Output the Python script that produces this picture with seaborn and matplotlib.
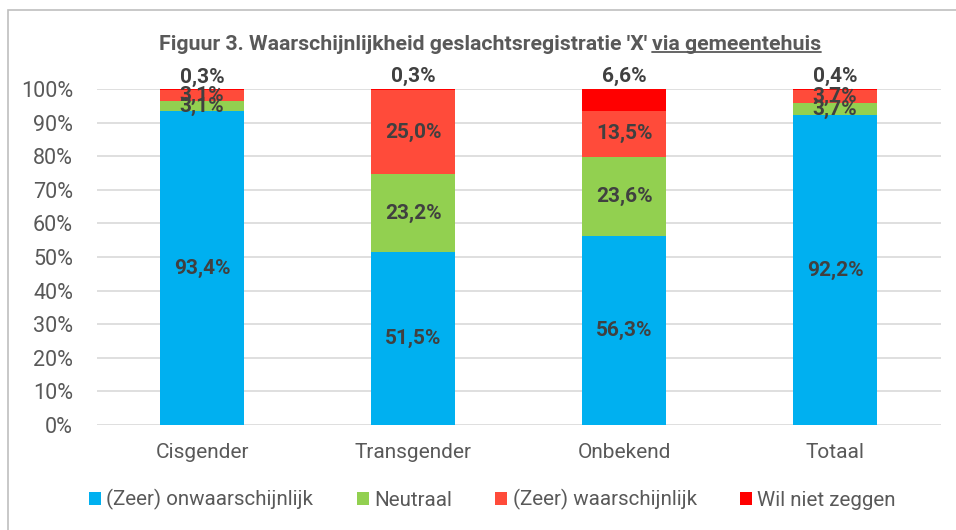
import numpy as np
import pandas as pd
import matplotlib.pyplot as plt
import seaborn as sns
from matplotlib.lines import Line2D
from matplotlib.patches import Rectangle, Patch

# data
categories = ['Cisgender', 'Transgender', 'Onbekend', 'Totaal']
series_names = ['(Zeer) onwaarschijnlijk', 'Neutraal', '(Zeer) waarschijnlijk', 'Wil niet zeggen']
onwaarschijnlijk = [93.4, 51.5, 56.3, 92.2]
neutraal = [3.1, 23.2, 23.6, 3.7]
waarschijnlijk = [3.1, 25.0, 13.5, 3.7]
wil_niet = [0.3, 0.3, 6.6, 0.4]
colors = ['#00B0F0', '#92D050', '#FF4B3A', '#FF0000']
y_ticks = list(range(0, 101, 10))

sns.set_theme(style='white')
plt.rcParams['font.family'] = ['Roboto', 'DejaVu Sans']

fig = plt.figure(figsize=(9.56, 5.3), dpi=100)
ax = fig.add_axes([0.101, 0.198, 0.883, 0.634])

values = [onwaarschijnlijk, neutraal, waarschijnlijk, wil_niet]
df = pd.DataFrame({name: v for name, v in zip(series_names, values)}, index=categories)
cum = df.cumsum(axis=1)

# stacked bars: draw cumulative totals from the top series down
for i in range(len(series_names) - 1, -1, -1):
    sns.barplot(x=categories, y=cum.iloc[:, i].values, color=colors[i],
                width=0.40, saturation=1, ax=ax, zorder=2, linewidth=0)

# value labels
for j, cat in enumerate(categories):
    bottom = 0
    for i, name in enumerate(series_names):
        v = df.loc[cat, name]
        txt = f"{v:.1f}%".replace('.', ',')
        if i == len(series_names) - 1:
            y = bottom + v + 0.8
            va = 'bottom'
        else:
            y = bottom + v / 2
            va = 'center'
        ax.text(j, y, txt, ha='center', va=va, fontsize=15,
                fontweight='bold', color='#404040', zorder=5)
        bottom += v

ax.set_ylim(0, 100)
ax.set_xlim(-0.5, 3.5)
ax.set_yticks(y_ticks)
ax.set_yticklabels([f"{t}%" for t in y_ticks])
ax.yaxis.grid(True, color='#D9D9D9', linewidth=1.2, zorder=0)
ax.set_axisbelow(True)
for s in ax.spines.values():
    s.set_visible(False)
ax.tick_params(axis='y', labelsize=15.5, colors='#595959', length=0, pad=17)
ax.tick_params(axis='x', labelsize=15, colors='#595959', length=0, pad=13)

# legend
handles = [Patch(facecolor=c, edgecolor='none') for c in colors]
fig.legend(handles, series_names, loc='center', bbox_to_anchor=(0.515, 0.057),
           ncol=4, frameon=False, fontsize=14.8, labelcolor='#595959',
           handlelength=0.6, handleheight=0.6, handletextpad=0.25,
           columnspacing=2.1)

# outer border
fig.patches.append(Rectangle((8 / 956, -0.1), 1.1, 1 - 10 / 530 + 0.1,
                             transform=fig.transFigure, fill=False,
                             edgecolor='#BFBFBF', linewidth=1.2))

# title with underlined part, centred
ty = 1 - 44 / 530
t1 = fig.text(0, ty, "Figuur 3. Waarschijnlijkheid geslachtsregistratie 'X' ",
              fontsize=15.3, fontweight='bold', color='#595959', va='center', ha='left')
t2 = fig.text(0, ty, "via gemeentehuis",
              fontsize=15.3, fontweight='bold', color='#595959', va='center', ha='left')
fig.canvas.draw()
r = fig.canvas.get_renderer()
w1 = t1.get_window_extent(r).width
w2 = t2.get_window_extent(r).width
W = fig.bbox.width
x0 = 490 - (w1 + w2) / 2
t1.set_x(x0 / W)
t2.set_x((x0 + w1) / W)
fig.canvas.draw()
bb2 = t2.get_window_extent(r)
yl = (bb2.y0 + 1.5) / fig.bbox.height
fig.add_artist(Line2D([bb2.x0 / W, bb2.x1 / W], [yl, yl],
                      transform=fig.transFigure, color='#595959', linewidth=1.3))

fig.savefig('out.png', dpi=100)
